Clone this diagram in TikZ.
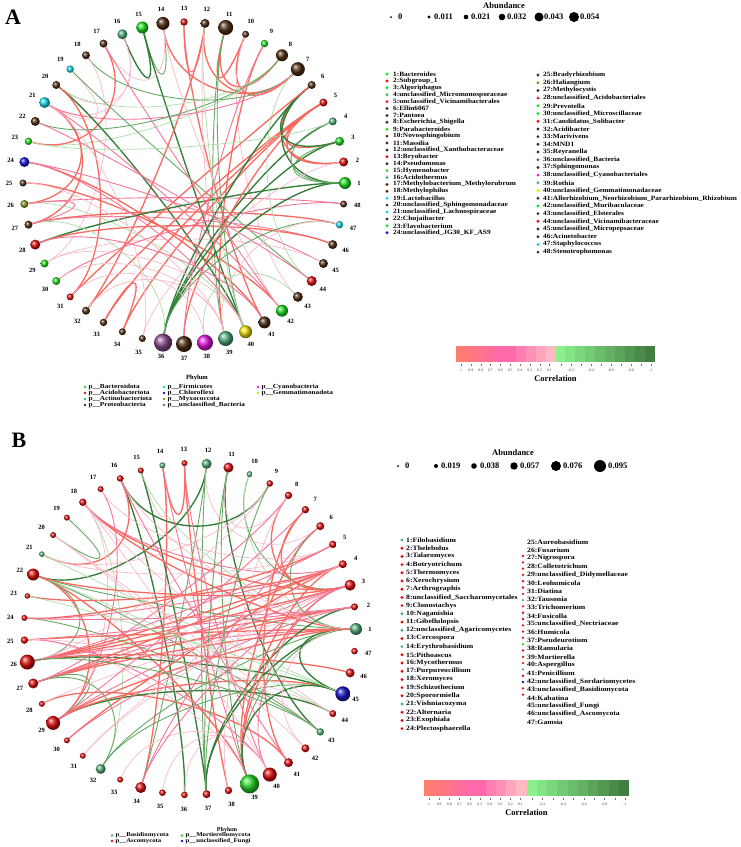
\documentclass[tikz,border=0pt]{standalone}
\usepackage{fontspec}
\setmainfont{Liberation Serif}
\newfontfamily\listfontA{Liberation Serif}[FakeStretch=1.13]
\newfontfamily\listfontB{Liberation Serif}[FakeStretch=1.17]
\usepackage{tikz}
\usetikzlibrary{calc,backgrounds}
% phylum colours
\definecolor{BactG}{RGB}{30,225,30}
\definecolor{AcidR}{RGB}{225,15,15}
\definecolor{ActiG}{RGB}{80,175,125}
\definecolor{ProtB}{RGB}{80,45,20}
\definecolor{FirmC}{RGB}{20,215,230}
\definecolor{ChloB}{RGB}{20,20,210}
\definecolor{MyxoO}{RGB}{125,150,25}
\definecolor{UncP}{RGB}{140,75,140}
\definecolor{CyanM}{RGB}{230,20,230}
\definecolor{GemmY}{RGB}{235,225,10}
\definecolor{BasiG}{RGB}{85,175,120}
\definecolor{AscoR}{RGB}{225,15,15}
\definecolor{MortG}{RGB}{40,220,40}
\definecolor{UnfuB}{RGB}{20,20,200}
% correlation colours
\definecolor{EdgePosS}{RGB}{248,105,95}
\definecolor{EdgePosM}{RGB}{242,118,150}
\definecolor{EdgePosL}{RGB}{248,185,200}
\definecolor{EdgeNegS}{RGB}{50,125,55}
\definecolor{EdgeNegM}{RGB}{100,170,100}
\definecolor{EdgeNegL}{RGB}{170,220,165}
\definecolor{CorrCoral}{RGB}{255,125,110}
\definecolor{CorrHot}{RGB}{255,105,170}
\definecolor{CorrPale}{RGB}{255,185,195}
\definecolor{CorrLime}{RGB}{140,240,140}
\definecolor{CorrDeep}{RGB}{65,125,65}
\tikzset{
  taxball/.style={circle,inner sep=0pt,outer sep=0pt},
  numlab/.style={inner sep=0pt,font=\fontsize{6.5}{7}\selectfont\bfseries},
  listtxt/.style={anchor=west,inner sep=0pt,font=\listfontA\fontsize{6.5}{7}\selectfont\bfseries},
  listtxtb/.style={listtxt,font=\listfontB\fontsize{6.6}{7}\selectfont\bfseries},
  keydot/.style={circle,inner sep=0pt,minimum size=3.2pt},
  abdot/.style={circle,fill=black,inner sep=0pt},
  abtxt/.style={anchor=west,inner sep=0pt,font=\fontsize{8.5}{9}\selectfont\bfseries},
  headtxt/.style={inner sep=0pt,font=\fontsize{8.5}{9}\selectfont\bfseries},
  phytxt/.style={anchor=west,inner sep=0pt,font=\listfontB\fontsize{6.2}{6.5}\selectfont\bfseries},
  ticktxt/.style={inner sep=0pt,font=\fontsize{3.8}{4}\selectfont,text=black!75},
  tickline/.style={draw=black!55,line width=0.3pt},
  panellab/.style={inner sep=0pt,font=\fontsize{22}{24}\selectfont\bfseries},
  posS/.style={draw=EdgePosS,line width=1.3pt},
  posM/.style={draw=EdgePosM,line width=0.9pt},
  posL/.style={draw=EdgePosL,line width=0.7pt},
  negS/.style={draw=EdgeNegS,line width=1.35pt},
  negM/.style={draw=EdgeNegM,line width=0.9pt},
  negL/.style={draw=EdgeNegL,line width=0.7pt}
}
\begin{document}
\begin{tikzpicture}[x=1pt,y=-1pt]
  \path[use as bounding box] (0,0) rectangle (740,847);
  \node[panellab] (tagA) at (13,17) {A};
  \node[panellab] (tagB) at (19,440) {B};

  % panel A: bacterial network
  \coordinate (ac) at (184,183);
  \begin{scope}[shift={(184,183)}]
    \foreach \k/\col/\rad in {1/BactG/6,2/AcidR/4.5,3/BactG/4.5,4/ActiG/4,5/AcidR/4,6/ProtB/4,
      7/ProtB/7,8/ProtB/6,9/BactG/3.7,10/ProtB/3.5,11/ProtB/7.5,12/ProtB/4.5,13/AcidR/3.7,
      14/ProtB/6.5,15/BactG/6,16/ActiG/5,17/ProtB/4,18/ProtB/4,19/FirmC/3.7,20/ProtB/4,
      21/FirmC/5.5,22/ProtB/4.5,23/BactG/3.7,24/ChloB/5,25/ProtB/3.5,26/MyxoO/4,27/ProtB/4,
      28/AcidR/5,29/BactG/4,30/BactG/4,31/AcidR/3.5,32/ProtB/4,33/ProtB/3.7,34/ProtB/3.5,
      35/ProtB/3.5,36/UncP/9,37/ProtB/8,38/CyanM/8,39/ActiG/7.5,40/GemmY/6.5,41/ProtB/6,
      42/BactG/6,43/ProtB/5,44/AcidR/5,45/ProtB/4.5,46/ProtB/4.5,47/FirmC/3.7,48/ProtB/3.5}{
      \node[taxball,ball color=\col,minimum size=\rad*2pt] (a\k) at ({-(\k-1)*7.5}:161) {};
      \node[numlab] (la\k) at ({-(\k-1)*7.5}:175) {\k};
    }
  \end{scope}
  \begin{pgfonlayer}{background}
    \foreach \p/\q/\sty in {15/16/negS,15/14/negM,15/40/negS,16/21/posL,16/20/posL,14/7/posS,
      13/12/posM,12/7/posS,11/10/posS,10/7/posS,11/8/posS,13/41/posS,12/32/posS,12/39/posL,
      11/40/negM,11/39/negM,10/43/posL,9/39/posS,8/20/negL,8/23/negL,18/7/negM,21/7/posM,
      17/23/posS,17/14/posL,18/29/posL,19/21/posL,19/44/negM,20/40/negS,20/31/posS,21/27/posS,
      21/26/posS,21/42/posM,22/8/negM,24/41/posS,24/45/posM,25/42/posS,26/48/posM,26/40/negL,
      27/47/posS,27/46/posM,28/1/negS,28/46/posS,29/45/posL,30/48/posM,32/5/posS,33/5/posS,
      34/5/posS,33/34/posS,35/21/posL,36/1/negS,36/3/negS,36/4/negS,36/6/negS,37/5/posS,
      38/43/negL,6/2/posS,6/1/negS,5/2/posS,5/3/posS,4/1/negM,3/1/negM,6/3/negS,7/44/negL,
      6/31/posS,27/36/negL,26/27/posM,17/42/posM,22/44/posM,36/47/negM,9/37/posM,39/47/posL,
      23/4/negL,24/40/posM,25/39/posL,28/41/posM,29/40/posL,30/39/posL,31/38/posL,32/39/posL,
      35/2/posL,12/40/negL,14/42/posL}{
      \draw[\sty] (a\p) .. controls ($(a\p)!0.4!(ac)$) and ($(a\q)!0.4!(ac)$) .. (a\q);
    }
  \end{pgfonlayer}

  % panel A: abundance key
  \node[headtxt] (abA) at (504,6) {Abundance};
  \foreach \xd/\rd/\xt/\v [count=\i] in {391/1/398/0,429/1.7/434/0.011,466/2.3/471/0.021,
    502/3.3/507/0.032,539/4.5/544/0.043,574/5/580/0.054}{
    \node[abdot,minimum size=\rd*2pt] (ada\i) at (\xd,17) {};
    \node[abtxt] (ata\i) at (\xt,17) {\v};
  }

  % panel A: genus list
  \foreach \col/\txt [count=\i from 0] in {BactG/1:Bacteroides,AcidR/2:Subgroup\_1,
    BactG/3:Algoriphagus,ActiG/4:unclassified\_Micromonosporaceae,
    AcidR/5:unclassified\_Vicinamibacterales,ProtB/6:Ellin6067,ProtB/7:Pantoea,
    ProtB/8:Escherichia\_Shigella,BactG/9:Parabacteroides,ProtB/10:Novosphingobium,
    ProtB/11:Massilia,ProtB/12:unclassified\_Xanthobacteraceae,AcidR/13:Bryobacter,
    ProtB/14:Pseudomonas,BactG/15:Hymenobacter,ActiG/16:Acidothermus,
    ProtB/17:Methylobacterium\_Methylorubrum,ProtB/18:Methylophilus,FirmC/19:Lactobacillus,
    ProtB/20:unclassified\_Sphingomonadaceae,FirmC/21:unclassified\_Lachnospiraceae,
    ProtB/22:Chujaibacter,BactG/23:Flavobacterium,ChloB/24:unclassified\_JG30\_KF\_AS9}{
    \node[keydot,fill=\col] (kal\i) at (387,{74+\i*6.9}) {};
    \node[listtxt] (tal\i) at (393,{74+\i*6.9}) {\txt};
  }
  \foreach \col/\txt [count=\i from 0] in {ProtB/25:Bradyrhizobium,MyxoO/26:Haliangium,
    ProtB/27:Methylocystis,AcidR/28:unclassified\_Acidobacteriales,BactG/29:Prevotella,
    BactG/30:unclassified\_Microscillaceae,AcidR/31:Candidatus\_Solibacter,
    ProtB/32:Acidibacter,ProtB/33:Marivivens,ProtB/34:MND1,ProtB/35:Reyranella,
    UncP/36:unclassified\_Bacteria,ProtB/37:Sphingomonas,CyanM/38:unclassified\_Cyanobacteriales,
    ActiG/39:Rothia,GemmY/40:unclassified\_Gemmatimonadaceae,
    ProtB/41:Allorhizobium\_Neorhizobium\_Pararhizobium\_Rhizobium,
    BactG/42:unclassified\_Muribaculaceae,ProtB/43:unclassified\_Elsterales,
    AcidR/44:unclassified\_Vicinamibacteraceae,ProtB/45:unclassified\_Micropepsaceae,
    ProtB/46:Acinetobacter,FirmC/47:Staphylococcus,ProtB/48:Stenotrophomonas}{
    \node[keydot,fill=\col] (kar\i) at (538,{75+\i*7.7}) {};
    \node[listtxt] (tar\i) at (543,{75+\i*7.7}) {\txt};
  }

  % panel A: phylum key
  \node[headtxt,font=\fontsize{6.5}{7}\selectfont\bfseries] (phA) at (197,378) {Phylum};
  \foreach \xd/\yd/\col/\txt [count=\i] in {85/387/BactG/p\_\_Bacteroidota,
    85/393/AcidR/p\_\_Acidobacteriota,85/399/ActiG/p\_\_Actinobacteriota,
    85/405/ProtB/p\_\_Proteobacteria,164/387/FirmC/p\_\_Firmicutes,
    164/393/ChloB/p\_\_Chloroflexi,164/399/MyxoO/p\_\_Myxococcota,
    164/405/UncP/p\_\_unclassified\_Bacteria,258/387/CyanM/p\_\_Cyanobacteria,
    258/393/GemmY/p\_\_Gemmatimonadota}{
    \node[keydot,fill=\col,minimum size=2.8pt] (pda\i) at (\xd,\yd) {};
    \node[phytxt] (pta\i) at (\xd+3.5,\yd) {\txt};
  }

  % panel B: fungal network
  \coordinate (bc) at (190,629);
  \begin{scope}[shift={(190,629)}]
    \foreach \k/\col/\rad in {1/BasiG/6,2/AscoR/3.5,3/AscoR/5.5,4/AscoR/4,5/AscoR/3.7,
      6/AscoR/4,7/AscoR/3.7,8/AscoR/3.7,9/AscoR/3.3,10/BasiG/3,11/AscoR/5,12/BasiG/5,
      13/AscoR/3,14/BasiG/3,15/AscoR/3,16/AscoR/3.3,17/AscoR/3,18/AscoR/3.7,19/AscoR/3,
      20/AscoR/3,21/BasiG/2.8,22/AscoR/6,23/AscoR/2.8,24/AscoR/3,25/AscoR/3.7,26/AscoR/7.5,
      27/AscoR/5,28/AscoR/3,29/AscoR/7,30/AscoR/3,31/AscoR/3,32/BasiG/5,33/AscoR/3,
      34/AscoR/5.5,35/AscoR/3.3,36/AscoR/3.3,37/AscoR/4,38/AscoR/3.7,39/MortG/9.5,
      40/AscoR/7,41/AscoR/4.5,42/AscoR/4,43/BasiG/3.7,44/AscoR/3.5,45/UnfuB/7.5,
      46/AscoR/4.5,47/AscoR/3.3}{
      \node[taxball,ball color=\col,minimum size=\rad*2pt] (b\k) at ({-(\k-1)*7.6596}:166) {};
      \node[numlab] (lb\k) at ({-(\k-1)*7.6596}:180) {\k};
    }
  \end{scope}
  \begin{pgfonlayer}{background}
    \foreach \p/\q/\sty in {14/13/posS,15/14/posL,12/22/negS,12/37/negM,13/38/posS,14/34/posS,
      12/34/negM,15/37/negS,15/1/negL,16/36/negS,16/21/posS,16/9/negS,11/43/negS,11/39/negM,
      10/3/negM,10/1/negL,11/8/posL,9/21/posL,8/3/posS,7/3/posS,7/41/posS,18/1/posS,18/3/posS,
      18/32/negL,18/29/posL,18/4/posM,19/20/negM,17/29/posM,21/5/posL,21/45/negL,22/43/negM,
      22/1/negM,22/39/posS,22/29/posS,22/26/negM,23/4/posS,24/43/negM,24/5/posS,25/1/posS,
      25/39/posL,26/2/posS,26/3/posS,26/45/negS,26/46/posS,26/1/posM,27/4/posS,27/1/posS,
      27/2/posS,27/29/negM,28/41/posS,29/3/posM,29/44/negS,29/45/posS,30/4/posS,31/3/posL,
      32/45/negM,32/1/negM,32/27/negM,35/40/posL,36/40/posL,37/2/negS,37/1/negS,39/3/posS,
      39/4/posS,39/6/posS,39/1/negM,39/45/negS,40/3/posM,1/45/negS,1/6/negM,6/12/posL,
      16/1/posL,24/2/posM,25/40/posM,37/11/negM,33/40/posL,42/1/posL,44/22/negL,20/43/posL,
      22/3/posS,26/4/posS,27/3/posM,25/2/posM,24/4/posM,28/2/posL,29/1/posS,30/2/posM,
      31/4/posL,18/44/posL,17/5/posL,9/26/posL,8/27/posM,7/29/posM,6/34/posM,5/26/posM,
      13/40/posM,14/39/posM,38/8/posL,37/9/negM,34/3/posM,41/16/posM,40/18/posL,42/20/posL,
      43/26/negM,44/25/posL,45/23/negL}{
      \draw[\sty] (b\p) .. controls ($(b\p)!0.4!(bc)$) and ($(b\q)!0.4!(bc)$) .. (b\q);
    }
  \end{pgfonlayer}

  % panel B: abundance key
  \node[headtxt] (abB) at (513,453) {Abundance};
  \foreach \xd/\rd/\xt/\v [count=\i] in {398/1/405/0,436/2/441/0.019,474/2.8/480/0.038,
    514/3.7/520/0.057,556/5/563/0.076,600/6/608/0.095}{
    \node[abdot,minimum size=\rd*2pt] (adb\i) at (\xd,466) {};
    \node[abtxt] (atb\i) at (\xt,466) {\v};
  }

  % panel B: genus list
  \foreach \col/\txt [count=\i from 0] in {BasiG/1:Filobasidium,AscoR/2:Thelebolus,
    AscoR/3:Talaromyces,AscoR/4:Botryotrichum,AscoR/5:Thermomyces,AscoR/6:Xerochrysium,
    AscoR/7:Arthrographis,AscoR/8:unclassified\_Saccharomycetales,AscoR/9:Clonostachys,
    BasiG/10:Naganishia,AscoR/11:Gibellulopsis,BasiG/12:unclassified\_Agaricomycetes,
    AscoR/13:Cercospora,BasiG/14:Erythrobasidium,AscoR/15:Pithoascus,AscoR/16:Mycothermus,
    AscoR/17:Purpureocillium,AscoR/18:Xeromyces,AscoR/19:Schizothecium,AscoR/20:Sporormiella,
    BasiG/21:Vishniacozyma,AscoR/22:Alternaria,AscoR/23:Exophiala,AscoR/24:Plectosphaerella}{
    \node[keydot,fill=\col] (kbl\i) at (402,{540+\i*8.2}) {};
    \node[listtxtb] (tbl\i) at (406,{540+\i*8.2}) {\txt};
  }
  \foreach \txt [count=\i from 0] in {25:Aureobasidium,26:Fusarium,27:Nigrospora,
    28:Colletotrichum,29:unclassified\_Didymellaceae,30:Leohumicola,31:Diatina,32:Tausonia,
    33:Trichomerium,34:Fusicolla,35:unclassified\_Nectriaceae,36:Humicola,37:Pseudeurotium,
    38:Ramularia,39:Mortierella,40:Aspergillus,41:Penicillium,42:unclassified\_Sordariomycetes,
    43:unclassified\_Basidiomycota,44:Kabatina,45:unclassified\_Fungi,46:unclassified\_Ascomycota,
    47:Gamsia}{
    \node[listtxtb] (tbr\i) at (527,{542+\i*8.2}) {\txt};
  }
  \foreach \col [count=\i from 0] in {AscoR,AscoR,AscoR,AscoR,AscoR,AscoR,AscoR,BasiG,AscoR,
    AscoR,AscoR,AscoR,AscoR,AscoR,MortG,AscoR,AscoR,AscoR,BasiG,AscoR,UnfuB,AscoR,AscoR}{
    \node[keydot,fill=\col,minimum size=2.6pt] (kbr\i) at (523,{556+\i*6.3}) {};
  }

  % panel B: phylum key
  \node[headtxt,font=\fontsize{6}{6.5}\selectfont\bfseries] (phB) at (227,830) {Phylum};
  \foreach \xd/\yd/\col/\txt [count=\i] in {112/835.5/BasiG/p\_\_Basidiomycota,
    112/841/AscoR/p\_\_Ascomycota,182/835.5/MortG/p\_\_Mortierellomycota,
    182/841/UnfuB/p\_\_unclassified\_Fungi}{
    \node[keydot,fill=\col,minimum size=2.6pt] (pdb\i) at (\xd,\yd) {};
    \node[phytxt,font=\listfontB\fontsize{5.8}{6}\selectfont\bfseries] (ptb\i) at (\xd+3.5,\yd) {\txt};
  }

  % correlation colour bars
  \foreach \bx/\by/\bw [count=\n] in {456/346/199,424/780/205}{
    \pgfmathsetmacro\sw{\bw/20}
    \pgfmathsetmacro\bmid{\bx+\bw/2}
    \foreach \i in {0,...,4}{
      \pgfmathtruncatemacro\p{\i*25}
      \fill[CorrHot!\p!CorrCoral] ({\bx+\i*\sw},\by) rectangle ++({\sw+0.3},16);
    }
    \foreach \i in {5,...,9}{
      \pgfmathtruncatemacro\p{(\i-5)*25}
      \fill[CorrPale!\p!CorrHot] ({\bx+\i*\sw},\by) rectangle ++({\sw+0.3},16);
    }
    \foreach \i in {0,...,9}{
      \pgfmathtruncatemacro\p{\i*11}
      \fill[CorrDeep!\p!CorrLime] ({\bmid+\i*\sw},\by) rectangle ++({\sw+(\i<9)*0.3},16);
    }
    \foreach \v [count=\i from 0] in {1,0.9,0.8,0.7,0.6,0.5,0.4,0.3,0.2,0.1}{
      \pgfmathsetmacro\tx{\bx+5+\i*(\bw/2-11)/9}
      \draw[tickline] (\tx,{\by+17.5}) -- ++(0,2);
      \node[ticktxt] (tp\n\i) at (\tx,{\by+24}) {\v};
    }
    \foreach \i in {0,...,9}{
      \pgfmathsetmacro\tx{\bmid+5.5+\i*(\bw/2-9.5)/9}
      \draw[tickline] (\tx,{\by+17.5}) -- ++(0,2);
    }
    \foreach \v [count=\i] in {-0.2,-0.4,-0.6,-0.8,-1}{
      \pgfmathsetmacro\tx{\bmid+5.5+(2*\i-1)*(\bw/2-9.5)/9}
      \node[ticktxt] (tn\n\i) at (\tx,{\by+24}) {\v};
    }
    \node[headtxt] (corr\n) at (\bmid,{\by+33}) {Correlation};
  }
\end{tikzpicture}
\end{document}
